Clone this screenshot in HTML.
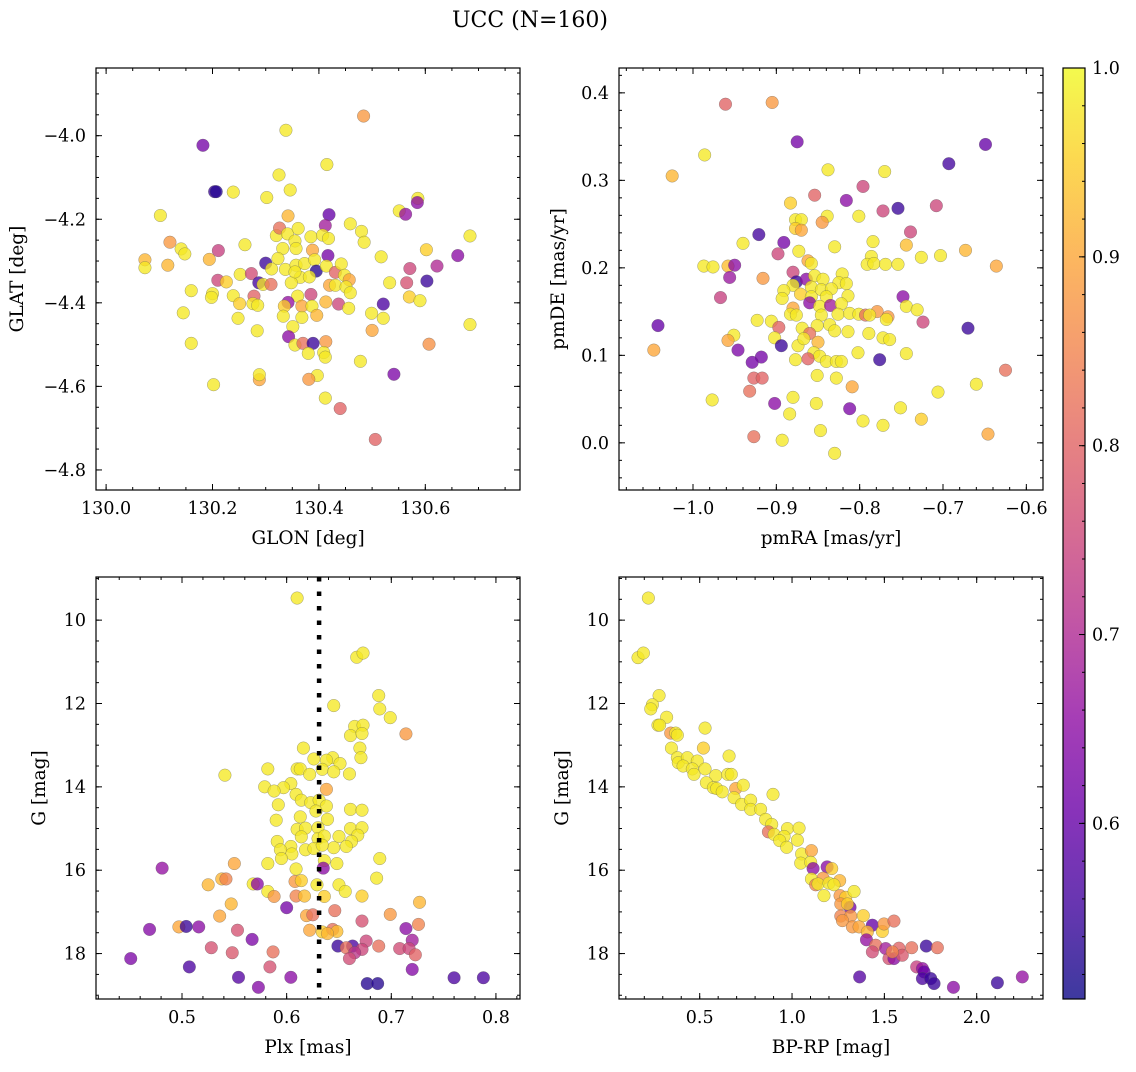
<!DOCTYPE html>
<html><head><meta charset="utf-8">
<style>
body{margin:0;background:#fff;}
svg text{font-family:"DejaVu Serif","Liberation Serif",serif;fill:#000;}
</style></head>
<body>
<svg id="fig" width="1136" height="1067" viewBox="0 0 1136 1067" xmlns="http://www.w3.org/2000/svg">
<rect width="1136" height="1067" fill="#fff"/>
<text x="530" y="27" font-size="22" text-anchor="middle">UCC (N=160)</text>
</svg>
<script>
// ---------- Panel 1 data: GLON / GLAT ----------
const p1Glon=[130.484,130.338,130.182,130.415,130.325,130.204,130.207,130.239,130.346,130.302,130.102,130.342,130.419,130.412,130.459,130.480,130.485,130.551,130.563,130.586,130.585,130.684,130.661,130.602,130.571,130.622,130.565,130.603,130.570,130.590,130.521,130.533,130.517,130.684,130.607,130.499,130.521,130.500,130.478,130.541,130.440,130.506,130.412,130.397,130.381,130.288,130.288,130.202,130.160,130.145,130.160,130.073,130.073,130.116,130.120,130.141,130.148,130.194,130.211,130.261,130.252,130.210,130.226,130.200,130.198,130.239,130.251,130.248,130.273,130.278,130.276,130.285,130.284,130.300,130.287,130.295,130.310,130.311,130.320,130.326,130.341,130.332,130.355,130.357,130.361,130.385,130.407,130.418,130.388,130.417,130.323,130.337,130.357,130.373,130.392,130.395,130.365,130.382,130.348,130.414,130.431,130.442,130.448,130.457,130.420,130.431,130.451,130.459,130.385,130.360,130.342,130.335,130.368,130.387,130.413,130.437,130.456,130.333,130.368,130.396,130.351,130.343,130.355,130.370,130.389,130.413,130.380,130.409,130.412,130.355];
const p1Glat=[-3.953,-3.987,-4.023,-4.069,-4.094,-4.134,-4.134,-4.135,-4.130,-4.148,-4.191,-4.192,-4.189,-4.215,-4.211,-4.229,-4.255,-4.180,-4.188,-4.150,-4.160,-4.240,-4.287,-4.273,-4.318,-4.312,-4.352,-4.348,-4.386,-4.395,-4.403,-4.352,-4.290,-4.452,-4.499,-4.425,-4.437,-4.466,-4.540,-4.571,-4.653,-4.727,-4.628,-4.574,-4.583,-4.584,-4.572,-4.596,-4.497,-4.424,-4.371,-4.297,-4.316,-4.310,-4.255,-4.271,-4.283,-4.296,-4.275,-4.261,-4.332,-4.346,-4.350,-4.378,-4.387,-4.383,-4.402,-4.437,-4.330,-4.384,-4.402,-4.406,-4.467,-4.305,-4.352,-4.356,-4.356,-4.319,-4.239,-4.221,-4.235,-4.270,-4.252,-4.270,-4.222,-4.242,-4.238,-4.246,-4.274,-4.287,-4.294,-4.320,-4.310,-4.306,-4.297,-4.324,-4.339,-4.338,-4.352,-4.312,-4.327,-4.307,-4.334,-4.345,-4.358,-4.358,-4.362,-4.376,-4.380,-4.384,-4.399,-4.408,-4.408,-4.408,-4.398,-4.403,-4.413,-4.432,-4.435,-4.430,-4.457,-4.481,-4.501,-4.497,-4.497,-4.493,-4.521,-4.519,-4.530,-4.326];
const p1Prob=[.88,.98,.62,.98,.98,.55,.53,.98,.98,.98,.98,.92,.6,.68,.98,.98,.98,.98,.66,.98,.65,.98,.65,.95,.75,.7,.77,.55,.95,.98,.57,.98,.98,.98,.87,.98,.98,.9,.98,.63,.8,.8,.98,.98,.88,.9,.98,.98,.98,.98,.98,.92,.98,.92,.88,.98,.98,.92,.74,.98,.98,.75,.95,.98,.98,.98,.95,.98,.76,.8,.98,.98,.98,.55,.56,.98,.82,.98,.98,.82,.98,.98,.98,.98,.98,.98,.98,.98,.9,.62,.98,.98,.98,.98,.98,.53,.98,.98,.98,.98,.8,.98,.98,.9,.9,.98,.98,.98,.75,.98,.66,.95,.9,.98,.92,.75,.98,.98,.98,.92,.98,.65,.98,.82,.55,.88,.98,.98,.98,.98];
const p1XTicks=[130.0,130.2,130.4,130.6];
const p1YTicks=[-4.0,-4.2,-4.4,-4.6,-4.8];

// ---------- Panel 2 data: pmRA / pmDE ----------
const p2PmRA=[-0.961,-0.905,-0.875,-0.649,-0.693,-0.986,-1.025,-0.838,-0.770,-0.796,-0.854,-0.816,-0.883,-0.754,-0.772,-0.708,-0.801,-0.839,-0.845,-0.877,-0.870,-0.877,-0.870,-0.739,-0.921,-0.891,-0.940,-0.898,-0.873,-0.830,-0.784,-0.744,-0.673,-0.726,-0.703,-0.786,-0.791,-0.783,-0.769,-0.754,-0.636,-0.987,-0.976,-0.958,-0.950,-0.956,-0.916,-0.967,-1.042,-1.047,-0.862,-0.858,-0.880,-0.876,-0.880,-0.864,-0.854,-0.844,-0.821,-0.825,-0.816,-0.891,-0.893,-0.871,-0.858,-0.858,-0.846,-0.834,-0.840,-0.814,-0.748,-0.860,-0.848,-0.835,-0.822,-0.744,-0.731,-0.880,-0.883,-0.876,-0.846,-0.826,-0.812,-0.801,-0.793,-0.779,-0.766,-0.768,-0.788,-0.724,-0.670,-0.923,-0.906,-0.897,-0.851,-0.836,-0.869,-0.830,-0.814,-0.789,-0.772,-0.764,-0.951,-0.958,-0.902,-0.894,-0.946,-0.874,-0.860,-0.867,-0.850,-0.855,-0.848,-0.862,-0.877,-0.840,-0.828,-0.822,-0.802,-0.776,-0.744,-0.918,-0.929,-0.927,-0.917,-0.932,-0.851,-0.828,-0.809,-0.625,-0.660,-0.706,-0.977,-0.902,-0.880,-0.884,-0.852,-0.812,-0.751,-0.796,-0.772,-0.726,-0.646,-0.927,-0.893,-0.847,-0.830];
const p2PmDE=[0.387,0.389,0.344,0.341,0.319,0.329,0.305,0.312,0.310,0.293,0.283,0.277,0.274,0.268,0.265,0.271,0.259,0.259,0.252,0.255,0.255,0.245,0.243,0.241,0.238,0.229,0.228,0.216,0.219,0.224,0.230,0.226,0.220,0.212,0.214,0.213,0.204,0.205,0.204,0.204,0.202,0.202,0.201,0.202,0.203,0.189,0.188,0.166,0.134,0.106,0.208,0.205,0.195,0.184,0.180,0.187,0.191,0.187,0.193,0.183,0.182,0.174,0.165,0.170,0.178,0.167,0.175,0.176,0.167,0.168,0.167,0.160,0.156,0.157,0.159,0.156,0.152,0.154,0.147,0.146,0.146,0.147,0.148,0.147,0.146,0.150,0.144,0.141,0.146,0.138,0.131,0.140,0.139,0.132,0.134,0.135,0.131,0.128,0.127,0.125,0.120,0.118,0.123,0.117,0.120,0.111,0.106,0.111,0.125,0.119,0.115,0.103,0.099,0.096,0.095,0.093,0.093,0.093,0.103,0.095,0.102,0.098,0.092,0.074,0.074,0.059,0.077,0.074,0.064,0.083,0.067,0.058,0.049,0.045,0.052,0.033,0.045,0.039,0.040,0.025,0.020,0.027,0.010,0.007,0.003,0.014,-0.012];
const p2Prob=[.8,.88,.62,.6,.56,.98,.92,.98,.98,.75,.8,.65,.95,.55,.75,.75,.98,.98,.88,.98,.98,.95,.9,.75,.56,.62,.98,.75,.98,.98,.98,.93,.92,.98,.98,.98,.98,.98,.98,.98,.9,.98,.98,.93,.65,.67,.88,.74,.6,.9,.9,.98,.75,.55,.98,.65,.98,.98,.98,.98,.98,.98,.98,.95,.98,.98,.98,.98,.98,.98,.65,.65,.98,.68,.98,.98,.98,.9,.98,.98,.98,.98,.98,.98,.82,.88,.88,.98,.98,.75,.55,.98,.98,.8,.98,.98,.98,.98,.98,.98,.98,.98,.98,.9,.98,.55,.63,.98,.82,.98,.92,.98,.98,.8,.98,.98,.98,.98,.98,.55,.98,.62,.62,.8,.8,.82,.98,.98,.9,.82,.98,.98,.98,.65,.98,.98,.98,.63,.98,.98,.98,.95,.9,.82,.98,.98,.98];
const p2XTicks=[-1.0,-0.9,-0.8,-0.7,-0.6];
const p2YTicks=[0.0,0.1,0.2,0.3,0.4];

// ---------- Panel 3 data: Plx / G ----------
const p3Plx=[0.610,0.667,0.673,0.688,0.645,0.689,0.699,0.714,0.665,0.673,0.661,0.672,0.670,0.671,0.616,0.626,0.644,0.651,0.638,0.634,0.645,0.660,0.610,0.613,0.622,0.582,0.541,0.604,0.597,0.579,0.588,0.592,0.609,0.614,0.623,0.638,0.631,0.638,0.628,0.590,0.613,0.639,0.661,0.672,0.610,0.618,0.630,0.614,0.630,0.636,0.661,0.672,0.650,0.668,0.662,0.591,0.604,0.594,0.605,0.595,0.618,0.626,0.645,0.657,0.634,0.582,0.609,0.636,0.648,0.689,0.686,0.635,0.481,0.550,0.525,0.538,0.542,0.568,0.572,0.582,0.588,0.608,0.614,0.609,0.617,0.629,0.636,0.650,0.656,0.672,0.727,0.547,0.600,0.536,0.619,0.625,0.646,0.699,0.672,0.726,0.714,0.469,0.497,0.504,0.516,0.553,0.622,0.634,0.644,0.648,0.639,0.567,0.528,0.548,0.587,0.649,0.663,0.657,0.676,0.672,0.665,0.660,0.688,0.708,0.720,0.717,0.723,0.720,0.451,0.507,0.584,0.554,0.604,0.573,0.677,0.687,0.760,0.788];
const p3G=[9.47,10.89,10.79,11.81,12.05,12.13,12.34,12.73,12.55,12.52,12.77,12.72,13.07,13.30,13.07,13.33,13.30,13.44,13.36,13.58,13.64,13.69,13.57,13.57,13.70,13.57,13.72,13.92,14.02,14.00,14.10,14.43,14.18,14.32,14.38,14.06,14.32,14.46,14.58,14.80,14.72,14.78,14.54,14.56,15.02,14.99,14.98,15.20,15.24,15.18,15.00,14.98,15.19,15.16,15.31,15.31,15.43,15.51,15.61,15.72,15.51,15.48,15.46,15.43,15.40,15.84,15.97,15.77,15.84,15.72,16.19,15.95,15.95,15.84,16.35,16.21,16.21,16.33,16.33,16.51,16.63,16.27,16.25,16.62,16.62,16.35,16.63,16.35,16.51,16.62,16.77,16.81,16.90,17.10,17.09,17.07,16.97,17.06,17.22,17.30,17.40,17.42,17.36,17.35,17.36,17.44,17.44,17.48,17.42,17.47,17.52,17.66,17.86,17.98,17.96,17.82,17.82,17.86,17.70,17.90,17.98,18.12,17.82,17.88,17.68,17.88,18.03,18.38,18.12,18.32,18.32,18.57,18.57,18.81,18.72,18.72,18.58,18.58];
const p3Prob=[.98,.98,.98,.98,.98,.98,.98,.88,.98,.98,.98,.98,.98,.98,.98,.98,.98,.98,.98,.98,.98,.98,.98,.98,.98,.98,.98,.98,.98,.98,.98,.98,.98,.98,.98,.9,.98,.98,.98,.98,.98,.98,.98,.98,.98,.98,.98,.98,.98,.98,.98,.98,.98,.98,.98,.98,.98,.98,.98,.98,.98,.98,.98,.98,.98,.98,.98,.98,.98,.98,.98,.65,.66,.9,.92,.92,.85,.98,.65,.98,.88,.88,.95,.85,.93,.98,.95,.98,.98,.95,.92,.92,.62,.9,.9,.82,.82,.88,.77,.85,.65,.64,.9,.55,.65,.77,.9,.95,.82,.93,.92,.63,.77,.78,.82,.55,.57,.82,.75,.75,.72,.76,.82,.76,.68,.75,.8,.64,.63,.57,.77,.58,.65,.64,.53,.53,.57,.57];
const p3XTicks=[0.5,0.6,0.7,0.8];
const p3YTicks=[10,12,14,16,18];
const plxMedian=0.631;

// ---------- Panel 4 data: BP-RP / G ----------
const p4BpRp=[0.222,0.166,0.195,0.280,0.244,0.235,0.321,0.274,0.283,0.343,0.370,0.379,0.529,0.347,0.520,0.379,0.384,0.433,0.487,0.410,0.460,0.529,0.469,0.659,0.587,0.652,0.671,0.536,0.574,0.592,0.622,0.695,0.736,0.686,0.727,0.776,0.776,0.830,0.897,0.857,0.890,0.872,0.903,0.975,1.038,0.957,0.933,0.971,1.029,1.052,1.105,1.047,1.101,1.114,1.190,1.215,1.105,1.128,1.168,1.141,1.200,1.258,1.227,1.173,1.260,1.291,1.336,1.264,1.314,1.300,1.264,1.318,1.386,1.273,1.327,1.363,1.435,1.408,1.489,1.498,1.552,1.403,1.453,1.435,1.507,1.525,1.552,1.579,1.597,1.543,1.648,1.727,1.787,1.675,1.706,1.715,1.706,1.751,1.769,1.366,1.874,2.112,2.247];
const p4G=[9.47,10.90,10.79,11.81,12.03,12.13,12.33,12.52,12.52,12.71,12.71,12.76,12.59,13.07,13.07,13.30,13.42,13.30,13.38,13.50,13.57,13.57,13.70,13.26,13.73,13.70,13.70,13.90,14.02,14.04,14.12,14.04,13.96,14.26,14.42,14.32,14.54,14.54,14.18,14.78,14.90,15.08,15.14,15.00,14.99,15.19,15.29,15.45,15.28,15.61,15.53,15.83,15.81,15.96,15.92,15.96,16.21,16.35,16.19,16.33,16.31,16.25,16.35,16.61,16.61,16.65,16.51,16.81,16.89,16.81,17.10,17.10,17.09,17.21,17.36,17.36,17.32,17.48,17.47,17.29,17.22,17.67,17.80,17.96,17.88,18.12,18.12,17.87,18.04,17.96,17.86,17.82,17.86,18.32,18.36,18.44,18.60,18.60,18.72,18.56,18.81,18.70,18.56];
const p4Prob=[.98,.98,.98,.98,.98,.98,.98,.98,.98,.88,.98,.98,.98,.98,.95,.98,.98,.98,.98,.98,.98,.98,.98,.98,.98,.98,.98,.98,.98,.98,.98,.9,.98,.98,.98,.98,.98,.98,.98,.98,.98,.82,.98,.98,.98,.98,.98,.98,.98,.98,.9,.98,.98,.65,.65,.95,.98,.85,.88,.98,.98,.92,.98,.98,.88,.95,.98,.88,.62,.95,.85,.88,.95,.88,.88,.9,.6,.92,.95,.88,.82,.66,.82,.76,.68,.77,.65,.8,.78,.85,.82,.55,.82,.74,.66,.6,.57,.55,.55,.58,.65,.55,.66];
const p4XTicks=[0.5,1.0,1.5,2.0];
const p4YTicks=[10,12,14,16,18];

// ---------- Colorbar ----------
const cbTicks=[0.6,0.7,0.8,0.9,1.0];
const cbMin=0.507, cbMax=1.0;

const NS="http://www.w3.org/2000/svg";
const svg=document.getElementById('fig');
function mk(tag,attrs,parent){const e=document.createElementNS(NS,tag);for(const k in attrs)e.setAttribute(k,attrs[k]);(parent||svg).appendChild(e);return e;}

const plasma=[[13,8,135],[65,4,157],[106,0,168],[143,13,164],[177,42,144],[204,71,120],[225,100,98],[242,132,75],[252,166,54],[252,206,37],[240,249,33]];
function cmap(p){let t=(p-cbMin)/(cbMax-cbMin);t=Math.max(0,Math.min(1,t));const f=t*10,i=Math.min(9,Math.floor(f)),r=f-i;const a=plasma[i],b=plasma[i+1];return 'rgb('+a.map((v,j)=>Math.round(v+(b[j]-v)*r)).join(',')+')';}
function fmt(v,d){const s=v.toFixed(d);return v<0?'\u2212'+s.slice(1):s;}

const TICK_FS=17.5, LABEL_FS=18.5;

function panel(cfg){
  const {name,L,T,W,H,xmin,xmax,ymin,ymax,invertY,xt,yt,xMinor,yMinor,xd,yd,xlabel,ylabel}=cfg;
  const sx=v=>L+(v-xmin)/(xmax-xmin)*W;
  const sy=invertY?(v=>T+(v-ymin)/(ymax-ymin)*H):(v=>T+H-(v-ymin)/(ymax-ymin)*H);
  const g=mk('g',{});
  
  
  const clipId=name+'-clip';
  const cp=mk('clipPath',{id:clipId},g);mk('rect',{x:L,y:T,width:W,height:H},cp);
  const pts=mk('g',{'clip-path':'url(#'+clipId+')'},g);
  
  
  const n=Math.min(cfg.xs.length,cfg.ys.length,cfg.cs.length);
  for(let i=0;i<n;i++){
    const c=mk('circle',{cx:sx(cfg.xs[i]),cy:sy(cfg.ys[i]),r:6.3,fill:cmap(cfg.cs[i]),'fill-opacity':0.78,stroke:'#555','stroke-opacity':0.55,'stroke-width':0.5},pts);
    
    
  }
  if(cfg.extra)cfg.extra(g,sx,sy);
  const frame=mk('rect',{x:L,y:T,width:W,height:H,fill:'none',stroke:'#000','stroke-width':1.2},g);
  
  
  const tk=mk('g',{stroke:'#000','stroke-width':1},g);
  function rng(a,b,step){const out=[];const s=Math.ceil((a-1e-9)/step);for(let k=s;k*step<=b+1e-9;k++)out.push(k*step);return out;}
  const lo=Math.min(ymin,ymax),hi=Math.max(ymin,ymax);
  rng(xmin,xmax,xMinor).forEach(v=>{const x=sx(v);mk('line',{x1:x,x2:x,y1:T+H,y2:T+H-3},tk);mk('line',{x1:x,x2:x,y1:T,y2:T+3},tk);});
  rng(lo,hi,yMinor).forEach(v=>{const y=sy(v);mk('line',{x1:L,x2:L+3,y1:y,y2:y},tk);mk('line',{x1:L+W,x2:L+W-3,y1:y,y2:y},tk);});
  xt.forEach(v=>{const x=sx(v);mk('line',{x1:x,x2:x,y1:T+H,y2:T+H-6},tk);mk('line',{x1:x,x2:x,y1:T,y2:T+6},tk);
    const t=mk('text',{x:x,y:T+H+24,'font-size':TICK_FS,'text-anchor':'middle'},g);t.textContent=fmt(v,xd);
    
    });
  yt.forEach(v=>{const y=sy(v);mk('line',{x1:L,x2:L+6,y1:y,y2:y},tk);mk('line',{x1:L+W,x2:L+W-6,y1:y,y2:y},tk);
    const t=mk('text',{x:L-10,y:y+6,'font-size':TICK_FS,'text-anchor':'end'},g);t.textContent=fmt(v,yd);
    
    });
  const xl=mk('text',{x:L+W/2,y:T+H+54,'font-size':LABEL_FS,'text-anchor':'middle'},g);xl.textContent=xlabel;
  
  
  const ylx=cfg.ylx;
  const yl=mk('text',{x:ylx,y:T+H/2,'font-size':LABEL_FS,'text-anchor':'middle',transform:'rotate(-90 '+ylx+' '+(T+H/2)+')'},g);yl.textContent=ylabel;
  
  
}

const W=424,H=422;
panel({name:'glon-glat-panel',L:96,T:68,W,H,xmin:129.981,xmax:130.778,ymin:-4.848,ymax:-3.838,xt:p1XTicks,yt:p1YTicks,xMinor:0.05,yMinor:0.05,xd:1,yd:1,xs:p1Glon,ys:p1Glat,cs:p1Prob,xlabel:'GLON [deg]',ylabel:'GLAT [deg]',ylx:23});
panel({name:'pm-panel',L:619,T:68,W,H,xmin:-1.0888,xmax:-0.58,ymin:-0.0539,ymax:0.4284,xt:p2XTicks,yt:p2YTicks,xMinor:0.02,yMinor:0.02,xd:1,yd:1,xs:p2PmRA,ys:p2PmDE,cs:p2Prob,xlabel:'pmRA [mas/yr]',ylabel:'pmDE [mas/yr]',ylx:564});
panel({name:'plx-g-panel',L:96,T:577,W,H,xmin:0.4178,xmax:0.823,ymin:8.965,ymax:19.09,invertY:true,xt:p3XTicks,yt:p3YTicks,xMinor:0.02,yMinor:0.5,xd:1,yd:0,xs:p3Plx,ys:p3G,cs:p3Prob,xlabel:'Plx [mas]',ylabel:'G [mag]',ylx:45,
  extra:(g,sx,sy)=>{const x=sx(plxMedian);const l=mk('line',{x1:x,x2:x,y1:577,y2:999,stroke:'#000','stroke-width':4.5,'stroke-dasharray':'4.5 10'},g);
    
    }});
panel({name:'cmd-panel',L:619,T:577,W,H,xmin:0.063,xmax:2.359,ymin:8.965,ymax:19.09,invertY:true,xt:p4XTicks,yt:p4YTicks,xMinor:0.1,yMinor:0.5,xd:1,yd:0,xs:p4BpRp,ys:p4G,cs:p4Prob,xlabel:'BP-RP [mag]',ylabel:'G [mag]',ylx:568});

(function(){
  const L=1063,T=68,Wc=22,Hc=931;
  const g=mk('g',{});
  
  
  const defs=mk('defs',{},g);
  const lg=mk('linearGradient',{id:'cbgrad',x1:0,y1:1,x2:0,y2:0},defs);
  for(let i=0;i<=20;i++){const p=cbMin+(cbMax-cbMin)*i/20;mk('stop',{offset:i/20,'stop-color':cmap(p),'stop-opacity':0.8},lg);}
  mk('rect',{x:L,y:T,width:Wc,height:Hc,fill:'url(#cbgrad)',stroke:'#000','stroke-width':1.2},g);
  const sy=v=>T+Hc-(v-cbMin)/(cbMax-cbMin)*Hc;
  for(let v=0.52;v<=1.0001;v+=0.02){const y=sy(v);mk('line',{x1:L+Wc,x2:L+Wc-3,y1:y,y2:y,stroke:'#000'},g);}
  cbTicks.forEach(v=>{const y=sy(v);mk('line',{x1:L+Wc,x2:L+Wc-6,y1:y,y2:y,stroke:'#000'},g);
    const t=mk('text',{x:L+Wc+7,y:y+6,'font-size':TICK_FS},g);t.textContent=v.toFixed(1);
    
    });
})();
</script>
</body></html>
